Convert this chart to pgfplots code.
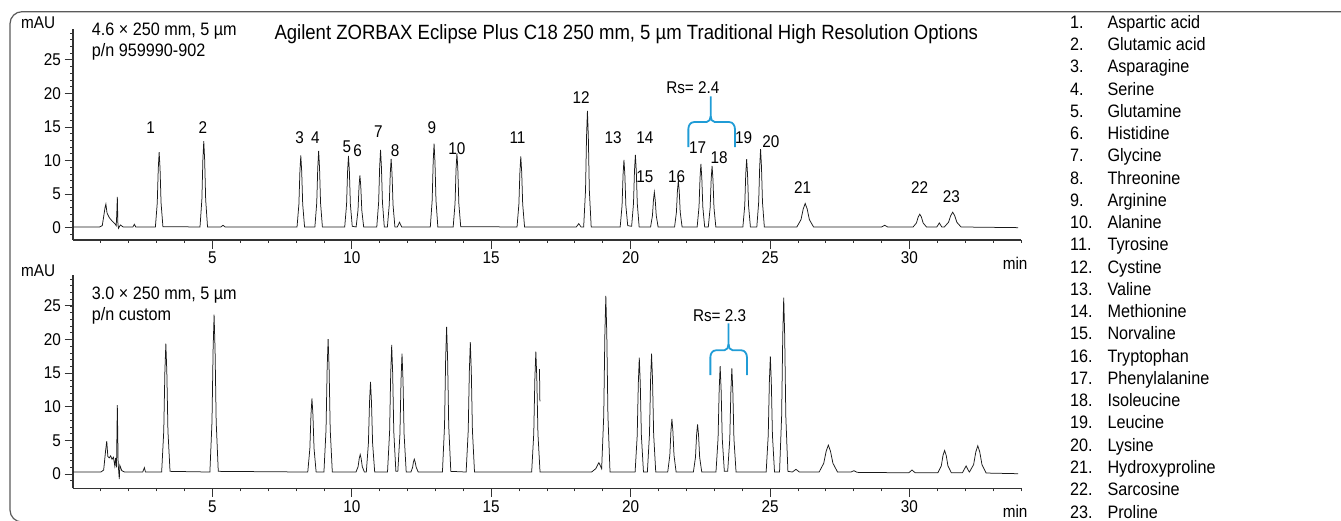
\documentclass[border=0pt]{standalone}
\usepackage{pgfplots}
\pgfplotsset{compat=1.18}
\usepackage{fontspec}
\setmainfont{Liberation Sans}[FakeStretch=0.9]
\definecolor{bracecol}{RGB}{32,156,214}
\definecolor{framecol}{RGB}{90,90,90}
\pgfplotsset{chrom/.style={
  scale only axis, width=948pt,
  xmin=0, xmax=34, ymax=29.6,
  axis x line=bottom, axis y line=left,
  axis line style={-, line width=1.1pt, black!80},
  xtick={5,10,...,30}, minor xtick={1,...,34},
  ytick={0,5,...,25}, minor ytick={-1,0,...,29},
  tick align=outside,
  major tick length=8.5pt, minor tick length=3pt,
  tick style={line width=0.9pt, black!80},
  minor tick style={line width=0.8pt, black!80},
  ticklabel style={font=\fontsize{17}{20}\selectfont},
  /pgf/number format/assume math mode=true,
  clip=false,
}}
\tikzset{lab/.style={font=\fontsize{17}{20}\selectfont, inner sep=0pt}}
\begin{document}
\begin{tikzpicture}
\path[use as bounding box] (0pt,0pt) rectangle (1341pt,520pt);
% frame
\draw[framecol, line width=1.2pt, rounded corners=12pt] (1400pt,508.3pt) -- (10pt,508.3pt) -- (10pt,-2pt) -- (60pt,-2pt);
% ---------- top chromatogram ----------
\begin{axis}[chrom, height=211pt, ymin=-1.84, at={(73pt,280pt)}, anchor=south west]
\addplot[line width=0.75pt, black!90] coordinates {
(0,0.1)(0.95,0.1)(1.05,0.3)(1.15,3.0)(1.18,3.5)(1.22,2.2)(1.3,1.5)(1.4,1.0)(1.5,0.6)(1.55,0.3)(1.57,2.0)(1.59,4.6)(1.61,0.6)(1.63,-0.1)(1.7,0.4)(1.8,0.1)(2.15,0.1)(2.2,0.5)(2.25,0.1)
(2.955,0.1)(3.022,3.7)(3.058,8.8)(3.09,11.25)(3.122,8.8)(3.158,3.7)(3.225,0.15)
(4.555,0.1)(4.622,4.2)(4.658,10.1)(4.69,12.9)(4.722,10.1)(4.758,4.2)(4.825,0.1)
(5.3,0.1)(5.38,0.35)(5.46,0.1)
(8.035,0.1)(8.102,3.5)(8.138,8.4)(8.17,10.75)(8.202,8.4)(8.238,3.5)(8.305,0.1)
(8.675,0.1)(8.742,3.7)(8.778,8.9)(8.81,11.45)(8.842,8.9)(8.878,3.7)(8.945,0.1)
(9.745,0.1)(9.812,3.5)(9.848,8.4)(9.88,10.7)(9.912,8.4)(9.948,3.5)(10.015,0.2)
(10.155,0.1)(10.222,2.6)(10.258,6.1)(10.29,7.8)(10.322,6.1)(10.358,2.6)(10.425,0.1)
(10.895,0.1)(10.962,3.8)(10.998,9.0)(11.03,11.6)(11.062,9.0)(11.098,3.8)(11.165,0.1)
(11.275,0.1)(11.342,3.4)(11.378,8.0)(11.41,10.25)(11.442,8.0)(11.478,3.4)(11.545,0.1)
(11.63,0.1)(11.71,0.8)(11.79,0.1)
(12.815,0.1)(12.882,4.1)(12.918,9.8)(12.95,12.5)(12.982,9.8)(13.018,4.1)(13.085,0.1)
(13.635,0.1)(13.702,3.6)(13.738,8.7)(13.77,11.1)(13.802,8.7)(13.838,3.6)(13.905,0.15)
(15.925,0.1)(15.992,3.5)(16.028,8.3)(16.06,10.6)(16.092,8.3)(16.128,3.5)(16.195,0.1)
(18.05,0.1)(18.14,0.6)(18.22,0.1)
(18.315,0.1)(18.382,5.6)(18.418,13.6)(18.45,17.4)(18.482,13.6)(18.518,5.6)(18.585,0.1)
(19.625,0.1)(19.692,3.3)(19.728,7.9)(19.76,10.1)(19.792,7.9)(19.828,3.3)(19.895,0.3)
(20.035,0.2)(20.102,3.6)(20.138,8.5)(20.17,10.85)(20.202,8.5)(20.238,3.6)(20.305,0.1)
(20.715,0.1)(20.782,1.8)(20.818,4.1)(20.85,5.3)(20.882,4.1)(20.918,1.8)(20.985,0.1)
(21.575,0.1)(21.642,2.3)(21.678,5.5)(21.71,7.0)(21.742,5.5)(21.778,2.3)(21.845,0.1)
(22.385,0.1)(22.452,3.1)(22.488,7.4)(22.52,9.5)(22.552,7.4)(22.588,3.1)(22.655,0.1)
(22.785,0.1)(22.852,3.0)(22.888,7.2)(22.92,9.2)(22.952,7.2)(22.988,3.0)(23.055,0.1)
(24.025,0.1)(24.092,3.3)(24.128,8.0)(24.16,10.2)(24.192,8.0)(24.228,3.3)(24.295,0.1)
(24.525,0.1)(24.592,3.8)(24.628,9.1)(24.66,11.7)(24.692,9.1)(24.728,3.8)(24.795,0.1)
(25.96,0.1)(26.11,1.2)(26.19,2.8)(26.26,3.6)(26.33,2.8)(26.41,1.2)(26.56,0.1)
(29.0,0.1)(29.11,0.35)(29.22,0.1)
(30.13,0.1)(30.25,0.7)(30.314,1.6)(30.37,2.0)(30.426,1.6)(30.49,0.7)(30.61,0.1)
(30.98,0.1)(31.07,0.7)(31.16,0.1)
(31.25,0.1)(31.40,0.8)(31.48,1.8)(31.55,2.3)(31.62,1.8)(31.70,0.8)(31.85,0.1)
(33.9,0.0)
};
\node[lab] at (axis cs:2.78,14.84) {1};
\node[lab] at (axis cs:4.66,14.84) {2};
\node[lab] at (axis cs:8.13,13.34) {3};
\node[lab] at (axis cs:8.69,13.34) {4};
\node[lab] at (axis cs:9.82,12.0) {5};
\node[lab] at (axis cs:10.21,11.45) {6};
\node[lab] at (axis cs:10.95,14.33) {7};
\node[lab] at (axis cs:11.55,11.5) {8};
\node[lab] at (axis cs:12.87,14.84) {9};
\node[lab] at (axis cs:13.77,11.75) {10};
\node[lab] at (axis cs:15.94,13.43) {11};
\node[lab] at (axis cs:18.22,19.4) {12};
\node[lab] at (axis cs:19.37,13.43) {13};
\node[lab] at (axis cs:20.51,13.43) {14};
\node[lab] at (axis cs:20.51,7.6) {15};
\node[lab] at (axis cs:21.65,7.6) {16};
\node[lab] at (axis cs:22.40,11.9) {17};
\node[lab] at (axis cs:23.17,10.4) {18};
\node[lab] at (axis cs:24.05,13.43) {19};
\node[lab] at (axis cs:25.03,12.75) {20};
\node[lab] at (axis cs:26.17,6.0) {21};
\node[lab] at (axis cs:30.36,6.0) {22};
\node[lab] at (axis cs:31.50,4.6) {23};
\node[lab] at (axis cs:22.23,20.8) {Rs= 2.4};
\draw[bracecol, line width=1.8pt] (axis cs:22.07,12.0) -- (axis cs:22.07,14.7) to[out=90,in=180] (axis cs:22.27,15.73) -- (axis cs:22.72,15.73) to[out=0,in=-90] (axis cs:22.87,16.6) -- (axis cs:22.87,19.55);
\draw[bracecol, line width=1.8pt] (axis cs:22.87,16.6) to[out=-90,in=180] (axis cs:23.02,15.73) -- (axis cs:23.54,15.73) to[out=0,in=90] (axis cs:23.74,14.7) -- (axis cs:23.74,12.0);
\node[lab, anchor=center, yshift=-23.3pt] at (axis cs:33.79,-1.84) {min};
\end{axis}
% ---------- bottom chromatogram ----------
\begin{axis}[chrom, height=213.3pt, ymin=-2.12, at={(73pt,31.7pt)}, anchor=south west]
\addplot[line width=0.75pt, black!90] coordinates {
(0,0.3)(1.0,0.3)(1.1,0.6)(1.17,3.5)(1.21,4.9)(1.25,2.6)(1.3,2.4)(1.35,2.7)(1.4,2.2)(1.45,2.5)(1.5,1.2)(1.53,2.4)(1.56,1.0)(1.59,10.25)(1.62,1.5)(1.66,-0.75)(1.68,1.3)(1.75,0.5)(1.85,0.3)(2.5,0.3)(2.56,0.95)(2.6,0.3)
(3.18,0.3)(3.255,6.4)(3.295,15.2)(3.33,19.4)(3.365,15.2)(3.405,6.4)(3.48,0.4)
(4.91,0.3)(4.985,7.8)(5.025,18.5)(5.06,23.7)(5.095,18.5)(5.135,7.8)(5.21,0.4)
(8.42,0.3)(8.495,3.8)(8.535,8.8)(8.57,11.25)(8.605,8.8)(8.645,3.8)(8.72,0.3)
(9.0,0.3)(9.075,6.6)(9.115,15.7)(9.15,20.06)(9.185,15.7)(9.225,6.6)(9.3,0.3)
(10.15,0.3)(10.225,1.1)(10.265,2.3)(10.3,2.9)(10.335,2.3)(10.375,1.1)(10.45,0.3)
(10.52,0.3)(10.595,4.6)(10.635,10.7)(10.67,13.7)(10.705,10.7)(10.745,4.6)(10.82,0.3)
(11.28,0.3)(11.355,6.3)(11.395,15.0)(11.43,19.2)(11.465,15.0)(11.505,6.3)(11.58,0.4)
(11.65,0.4)(11.725,5.9)(11.765,14.0)(11.8,17.9)(11.835,14.0)(11.875,5.9)(11.95,0.3)
(12.12,0.3)(12.18,1.0)(12.21,1.8)(12.24,2.2)(12.27,1.8)(12.31,1.0)(12.38,0.3)
(13.25,0.3)(13.325,7.2)(13.365,17.1)(13.4,21.9)(13.435,17.1)(13.475,7.2)(13.55,0.4)
(14.1,0.3)(14.175,6.5)(14.215,15.3)(14.25,19.6)(14.285,15.3)(14.325,6.5)(14.4,0.3)
(16.45,0.3)(16.525,6.0)(16.565,14.2)(16.6,18.2)(16.635,14.2)(16.675,6.0)(16.75,0.3)
(18.6,0.3)(18.75,0.8)(18.86,1.7)(18.95,0.9)
(18.96,0.8)(19.035,8.7)(19.075,20.7)(19.11,26.5)(19.145,20.7)(19.185,8.7)(19.26,0.3)
(20.16,0.3)(20.235,5.7)(20.275,13.5)(20.31,17.3)(20.345,13.5)(20.385,5.7)(20.46,0.3)
(20.6,0.3)(20.675,5.9)(20.715,14.0)(20.75,17.9)(20.785,14.0)(20.825,5.9)(20.9,0.3)
(21.33,0.3)(21.405,2.8)(21.445,6.4)(21.48,8.2)(21.515,6.4)(21.555,2.8)(21.63,0.3)
(22.25,0.3)(22.325,2.5)(22.365,5.8)(22.40,7.4)(22.435,5.8)(22.475,2.5)(22.55,0.3)
(23.06,0.3)(23.135,5.3)(23.175,12.5)(23.21,16.05)(23.245,12.5)(23.285,5.3)(23.36,0.4)
(23.48,0.4)(23.555,5.2)(23.595,12.3)(23.63,15.7)(23.665,12.3)(23.705,5.2)(23.78,0.3)
(24.86,0.3)(24.935,5.8)(24.975,13.7)(25.01,17.5)(25.045,13.7)(25.085,5.8)(25.16,0.3)
(25.34,0.3)(25.415,8.6)(25.455,20.5)(25.49,26.25)(25.525,20.5)(25.565,8.6)(25.64,0.4)
(25.8,0.3)(25.93,0.7)(26.05,0.3)
(26.76,0.3)(26.925,1.6)(27.013,3.4)(27.09,4.3)(27.167,3.4)(27.255,1.6)(27.42,0.3)
(27.9,0.3)(28.01,0.5)(28.12,0.25)(29.5,0.2)
(29.98,0.2)(30.09,0.6)(30.2,0.2)
(31.02,0.2)(31.14,1.2)(31.204,2.8)(31.26,3.5)(31.316,2.8)(31.38,1.2)(31.5,0.2)
(31.9,0.2)(32.03,1.2)(32.13,0.4)
(32.15,0.3)(32.3,1.4)(32.38,3.3)(32.45,4.2)(32.52,3.3)(32.6,1.4)(32.75,0.15)
(33.9,0.05)
};
\addplot[line width=0.75pt, black!90] coordinates {(16.73,15.6)(16.745,10.8)};
\node[lab] at (axis cs:23.19,23.6) {Rs= 2.3};
\draw[bracecol, line width=1.8pt] (axis cs:22.86,14.7) -- (axis cs:22.86,17.4) to[out=90,in=180] (axis cs:23.06,18.4) -- (axis cs:23.36,18.4) to[out=0,in=-90] (axis cs:23.51,19.3) -- (axis cs:23.51,22.4);
\draw[bracecol, line width=1.8pt] (axis cs:23.51,19.3) to[out=-90,in=180] (axis cs:23.66,18.4) -- (axis cs:23.97,18.4) to[out=0,in=90] (axis cs:24.17,17.4) -- (axis cs:24.17,14.7);
\node[lab, anchor=center, yshift=-23.3pt] at (axis cs:33.79,-2.12) {min};
\end{axis}
% ---------- texts ----------
\node[anchor=base west, inner sep=0pt, font=\fontsize{17}{20}\selectfont] at (21pt,491.3pt) {mAU};
\node[anchor=base west, inner sep=0pt, font=\fontsize{18}{21}\selectfont] at (91.7pt,484.7pt) {4.6 × 250 mm, 5 µm};
\node[anchor=base west, inner sep=0pt, font=\fontsize{18}{21}\selectfont] at (91.7pt,463pt) {p/n 959990-902};
\node[anchor=base west, inner sep=0pt, font=\fontsize{20.6}{24}\selectfont] at (274.3pt,480.7pt) {Agilent ZORBAX Eclipse Plus C18 250 mm, 5 µm Traditional High Resolution Options};
\node[anchor=base west, inner sep=0pt, font=\fontsize{17}{20}\selectfont] at (21pt,243.3pt) {mAU};
\node[anchor=base west, inner sep=0pt, font=\fontsize{18}{21}\selectfont] at (91.7pt,221pt) {3.0 × 250 mm, 5 µm};
\node[anchor=base west, inner sep=0pt, font=\fontsize{18}{21}\selectfont] at (91.7pt,200pt) {p/n custom};
% legend list
\foreach \nm [count=\i] in {Aspartic acid,Glutamic acid,Asparagine,Serine,Glutamine,Histidine,Glycine,Threonine,Arginine,Alanine,Tyrosine,Cystine,Valine,Methionine,Norvaline,Tryptophan,Phenylalanine,Isoleucine,Leucine,Lysine,Hydroxyproline,Sarcosine,Proline}{
  \node[anchor=base west, inner sep=0pt, font=\fontsize{18}{21}\selectfont] at (1070pt,{491.7pt-22.26pt*(\i-1)}) {\i.};
  \node[anchor=base west, inner sep=0pt, font=\fontsize{18}{21}\selectfont] at (1107.3pt,{491.7pt-22.26pt*(\i-1)}) {\nm};
}
\end{tikzpicture}
\end{document}
